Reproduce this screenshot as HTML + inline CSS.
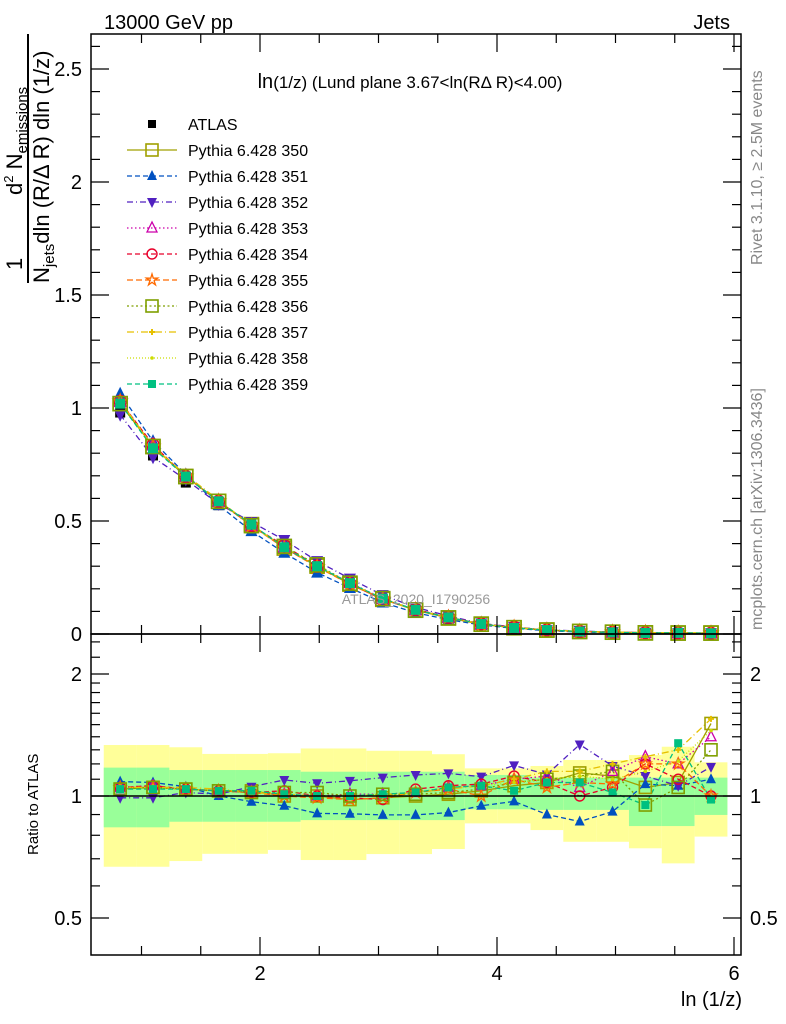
<!DOCTYPE html>
<html><head><meta charset="utf-8"><style>
html,body{margin:0;padding:0;background:#fff;}
svg{display:block;font-family:"Liberation Sans",sans-serif;}
</style></head><body>
<svg id="chart" width="786" height="1024" viewBox="0 0 786 1024" xmlns="http://www.w3.org/2000/svg">
<rect width="786" height="1024" fill="#fff"/>
<g id="bands"></g>
<g id="lines"></g>
<g id="marks"></g>
<g id="axes"></g>
<text x="104" y="29" font-size="20">13000 GeV pp</text>
<text x="730" y="29" font-size="20" text-anchor="end">Jets</text>
<text x="410" y="88" font-size="17" text-anchor="middle"><tspan font-size="20">ln</tspan>(1/z) (Lund plane 3.67&lt;ln(RΔ R)&lt;4.00)</text>
<text x="416" y="604" font-size="14" fill="#999" text-anchor="middle">ATLAS_2020_I1790256</text>
<text transform="translate(762,265) rotate(-90)" font-size="16" fill="#888">Rivet 3.1.10, ≥ 2.5M events</text>
<text transform="translate(762,630) rotate(-90)" font-size="16" fill="#888">mcplots.cern.ch [arXiv:1306.3436]</text>
<g>
<line x1="28" y1="283" x2="28" y2="34" stroke="#000" stroke-width="2"/>
<text transform="translate(22,270) rotate(-90)" font-size="22">1</text>
<text transform="translate(22,195) rotate(-90)" font-size="22">d<tspan font-size="13" dy="-9">2</tspan><tspan dy="9"> N</tspan><tspan font-size="15" dy="5">emissions</tspan></text>
<text transform="translate(49,283) rotate(-90)" font-size="22">N<tspan font-size="15" dy="5">jets</tspan><tspan dy="-5">dln (R/Δ R) dln (1/z)</tspan></text>
</g>
<text transform="translate(38,855) rotate(-90)" font-size="15">Ratio to ATLAS</text>
<text x="742" y="1006" font-size="20" text-anchor="end">ln (1/z)</text>
<g id="legend"></g>
</svg>
<script>
const xs = [0.82,1.097,1.374,1.651,1.928,2.205,2.482,2.759,3.036,3.313,3.59,3.867,4.144,4.421,4.698,4.975,5.252,5.529,5.806];
const atlas = [0.98,0.79,0.67,0.57,0.47,0.38,0.30,0.225,0.155,0.105,0.07,0.042,0.026,0.016,0.010,0.007,0.005,0.004,0.003];
const yellowUp = [1.336,1.336,1.319,1.27,1.27,1.275,1.31,1.31,1.293,1.293,1.268,1.17,1.17,1.186,1.227,1.227,1.262,1.323,1.211];
const yellowDn = [0.669,0.669,0.691,0.72,0.72,0.736,0.695,0.695,0.719,0.719,0.74,0.856,0.856,0.824,0.771,0.771,0.743,0.682,0.794];
const greenUp = [1.175,1.175,1.159,1.159,1.159,1.159,1.148,1.148,1.148,1.148,1.148,1.127,1.127,1.11,1.11,1.11,1.11,1.11,1.11];
const greenDn = [0.837,0.837,0.864,0.864,0.864,0.864,0.872,0.872,0.872,0.872,0.872,0.927,0.927,0.924,0.924,0.924,0.843,0.843,0.898];
const r350 = [1.04,1.05,1.04,1.03,1.03,1.0,1.0,0.98,0.99,1.0,1.01,1.03,1.06,1.08,1.14,1.12,1.05,1.08,1.51];
const r351 = [1.085,1.08,1.054,1.0,0.968,0.946,0.906,0.904,0.898,0.898,0.91,0.946,0.97,0.9,0.865,0.915,1.07,1.06,1.1];
const r352 = [0.99,0.99,1.02,1.01,1.054,1.095,1.075,1.09,1.11,1.127,1.137,1.116,1.19,1.13,1.34,1.186,1.12,1.06,1.18];
const r353 = [1.05,1.06,1.04,1.03,1.02,1.01,1.0,1.01,1.01,1.02,1.05,1.06,1.1,1.12,1.05,1.15,1.25,1.2,1.4];
const r354 = [1.05,1.06,1.04,1.03,1.02,1.03,1.0,0.99,0.98,1.04,1.06,1.07,1.12,1.08,1.0,1.05,1.2,1.1,1.0];
const r355 = [1.05,1.05,1.04,1.03,1.02,1.0,0.99,0.98,0.99,1.02,1.04,1.0,1.1,1.05,1.08,1.07,1.2,1.2,1.0];
const r356 = [1.04,1.05,1.04,1.03,1.02,1.02,1.02,1.0,1.01,1.01,1.02,1.04,1.08,1.1,1.12,1.15,0.95,1.05,1.3];
const r357 = [1.05,1.05,1.05,1.04,1.02,1.01,1.0,1.0,1.0,1.02,1.04,1.06,1.1,1.15,1.15,1.2,1.25,1.3,1.55];
const r358 = [1.05,1.05,1.04,1.03,1.03,1.01,1.0,1.0,1.01,1.02,1.05,1.06,1.08,1.1,1.12,1.1,1.15,1.22,1.45];
const r359 = [1.04,1.04,1.04,1.03,1.03,1.01,1.0,1.0,1.01,1.02,1.05,1.06,1.03,1.08,1.08,1.02,0.95,1.35,0.98];
const names = ["Pythia 6.428 350","Pythia 6.428 351","Pythia 6.428 352","Pythia 6.428 353","Pythia 6.428 354","Pythia 6.428 355","Pythia 6.428 356","Pythia 6.428 357","Pythia 6.428 358","Pythia 6.428 359"];
const ratios = [r350,r351,r352,r353,r354,r355,r356,r357,r358,r359];
const colors = ["#a0a000","#0050c0","#5020c0","#cc00aa","#e8002a","#ff6a00","#7f9f00","#e6c000","#ccdd00","#00c080"];
const dashes = ["","5,3","6,3,1,3","1.5,2.5","5,3","6,3","2,2.5","7,3,1,3","1,2","5,3"];
const shapes = ["sqo","tri","tridn","trio","circo","star","sqo","cross","dot","sq"];

const NS="http://www.w3.org/2000/svg";
const L=91,R=741,T=34,MB=634,RB=955;
const px = x => 23 + x*118.5;
const pyMain = y => 634 - y*226;
const pyRat = r => 796 - Math.log2(r)*122;
function mk(tag, attrs, parent){const e=document.createElementNS(NS,tag);for(const k in attrs)e.setAttribute(k,attrs[k]);parent.appendChild(e);return e;}
const bands=document.getElementById('bands'),lines=document.getElementById('lines'),marks=document.getElementById('marks'),axes=document.getElementById('axes'),legend=document.getElementById('legend');
const hw=0.1385;
for(let i=0;i<xs.length;i++){
  const x0=px(xs[i]-hw),x1=px(xs[i]+hw);
  const yb=mk('rect',{x:x0,y:pyRat(yellowUp[i]),width:x1-x0,height:pyRat(yellowDn[i])-pyRat(yellowUp[i]),fill:'#ffff99'},bands);
  
  
  const gb=mk('rect',{x:x0,y:pyRat(greenUp[i]),width:x1-x0,height:pyRat(greenDn[i])-pyRat(greenUp[i]),fill:'#99ff99'},bands);
  
  
}
function marker(shape,x,y,c,parent,s){
  s=s||5;let e;
  if(shape==='sq') e=mk('rect',{x:x-s+1,y:y-s+1,width:2*s-2,height:2*s-2,fill:c},parent);
  else if(shape==='sqo') e=mk('rect',{x:x-s-1,y:y-s-1,width:2*s+2,height:2*s+2,fill:'none',stroke:c,'stroke-width':1.6},parent);
  else if(shape==='tri') e=mk('polygon',{points:`${x},${y-s-1} ${x-s},${y+s-1} ${x+s},${y+s-1}`,fill:c},parent);
  else if(shape==='tridn') e=mk('polygon',{points:`${x},${y+s+1} ${x-s},${y-s+1} ${x+s},${y-s+1}`,fill:c},parent);
  else if(shape==='trio') e=mk('polygon',{points:`${x},${y-s-1} ${x-s},${y+s-1} ${x+s},${y+s-1}`,fill:'none',stroke:c,'stroke-width':1.3},parent);
  else if(shape==='circo') e=mk('circle',{cx:x,cy:y,r:s,fill:'none',stroke:c,'stroke-width':1.4},parent);
  else if(shape==='star'){let p=[];for(let k=0;k<10;k++){const a=-Math.PI/2+k*Math.PI/5,rr=k%2?s*0.45:s+1;p.push((x+rr*Math.cos(a)).toFixed(1)+','+(y+rr*Math.sin(a)).toFixed(1));}e=mk('polygon',{points:p.join(' '),fill:'none',stroke:c,'stroke-width':1.3},parent);}
  else if(shape==='cross') e=mk('path',{d:`M${x-3},${y}H${x+3}M${x},${y-3}V${y+3}`,stroke:c,'stroke-width':2},parent);
  else e=mk('circle',{cx:x,cy:y,r:1.8,fill:c},parent);
  return e;
}
const rl=mk('line',{x1:L,x2:R,y1:pyRat(1),y2:pyRat(1),stroke:'#000','stroke-width':1.5},axes);


// ATLAS data (drawn beneath MC)
for(let i=0;i<xs.length;i++){
  const d=marker('sq',px(xs[i]),pyMain(atlas[i]),'#000',marks,6);
  
  
}
for(let s=0;s<ratios.length;s++){
  const c=colors[s];
  const mainPts=xs.map((x,i)=>px(x)+','+pyMain(atlas[i]*ratios[s][i]).toFixed(1)).join(' ');
  const ratPts=xs.map((x,i)=>px(x)+','+pyRat(ratios[s][i]).toFixed(1)).join(' ');
  const l1=mk('polyline',{points:mainPts,fill:'none',stroke:c,'stroke-width':1.3,'stroke-dasharray':dashes[s]},lines);
  
  
  const l2=mk('polyline',{points:ratPts,fill:'none',stroke:c,'stroke-width':1.3,'stroke-dasharray':dashes[s]},lines);
  
  
  for(let i=0;i<xs.length;i++){
    const m1=marker(shapes[s],px(xs[i]),pyMain(atlas[i]*ratios[s][i]),c,marks,6);
    
    
    const m2=marker(shapes[s],px(xs[i]),pyRat(ratios[s][i]),c,marks);
    
    
  }
}
const f1=mk('rect',{x:L,y:T,width:R-L,height:MB-T,fill:'none',stroke:'#000','stroke-width':1.5},axes);


const f2=mk('rect',{x:L,y:MB,width:R-L,height:RB-MB,fill:'none',stroke:'#000','stroke-width':1.5},axes);


for(let v=1;v<=6.0001;v+=0.5){
  const X=px(v),maj=Math.abs(v-Math.round(v/2)*2)<1e-6;
  const len=maj?18:9;
  [[MB,-1],[T,1],[RB,-1],[MB,1]].forEach(([y0,d])=>{mk('line',{x1:X,x2:X,y1:y0,y2:y0+d*len,stroke:'#000','stroke-width':1.2},axes);});
  if(maj){const t=mk('text',{x:X,y:980,'font-size':20,'text-anchor':'middle'},axes);t.textContent=v;}
}
const mainLabels=["0","0.5","1","1.5","2","2.5"];
for(let k=0;k<=26;k++){
  const v=k*0.1,Y=pyMain(v),maj=k%5===0,len=maj?18:9;
  if(Y<T)continue;
  mk('line',{x1:L,x2:L+len,y1:Y,y2:Y,stroke:'#000','stroke-width':1.2},axes);
  mk('line',{x1:R,x2:R-len,y1:Y,y2:Y,stroke:'#000','stroke-width':1.2},axes);
  if(maj){const t=mk('text',{x:82,y:Y+7,'font-size':20,'text-anchor':'end'},axes);t.textContent=mainLabels[k/5];}
}
const ratioTicks=[0.5,0.6,0.7,0.8,0.9,1,1.1,1.2,1.3,1.4,1.5,1.6,1.7,1.8,1.9,2,2.2,2.4];
const ratioLabels=["0.5","1","2"];
ratioTicks.forEach(v=>{
  const Y=pyRat(v),maj=(v===0.5||v===1||v===2),len=maj?18:9;
  mk('line',{x1:L,x2:L+len,y1:Y,y2:Y,stroke:'#000','stroke-width':1.2},axes);
  mk('line',{x1:R,x2:R-len,y1:Y,y2:Y,stroke:'#000','stroke-width':1.2},axes);
});
[0.5,1,2].forEach((v,i)=>{
  const t=mk('text',{x:82,y:pyRat(v)+7,'font-size':20,'text-anchor':'end'},axes);t.textContent=ratioLabels[i];
  
  
  const t2=mk('text',{x:750,y:pyRat(v)+7,'font-size':20},axes);t2.textContent=ratioLabels[i];
  
  
});
const le=marker('sq',152,124,'#000',legend,5);


const lt=mk('text',{x:188,y:130,'font-size':16},legend);lt.textContent='ATLAS';


for(let s=0;s<names.length;s++){
  const Y=150+s*26;
  const ln=mk('line',{x1:127,x2:177,y1:Y,y2:Y,stroke:colors[s],'stroke-width':1.3,'stroke-dasharray':dashes[s]},legend);
  
  
  marker(shapes[s],152,Y,colors[s],legend);
  const t=mk('text',{x:188,y:Y+6,'font-size':16},legend);t.textContent=names[s];
  
  
}
</script>
</body></html>
